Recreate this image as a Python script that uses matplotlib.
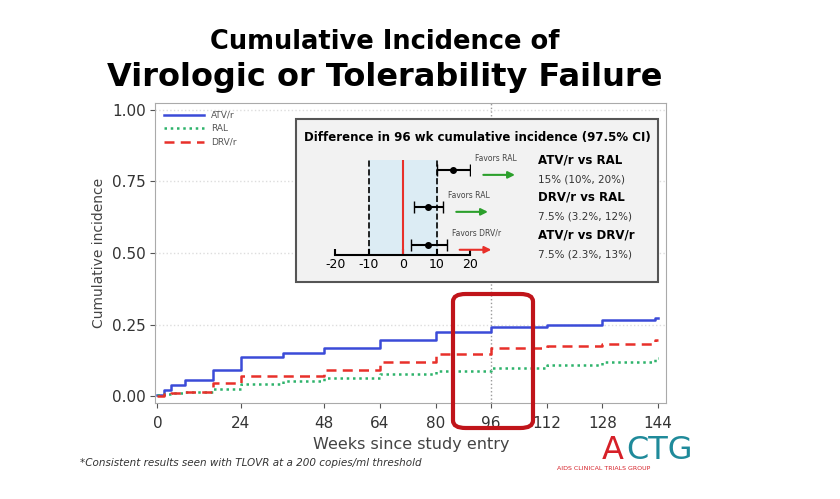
import matplotlib.pyplot as plt
from matplotlib.patches import FancyBboxPatch, Rectangle

plt.rcParams["axes.unicode_minus"] = False

weeks = [0, 2, 4, 8, 16, 24, 36, 48, 64, 80, 96, 112, 128, 143]
atv = [0.003, 0.023, 0.038, 0.058, 0.093, 0.137, 0.151, 0.169, 0.198, 0.225, 0.242, 0.25, 0.266, 0.272]
drv = [0.0, 0.007, 0.012, 0.015, 0.047, 0.072, 0.072, 0.093, 0.12, 0.149, 0.17, 0.175, 0.184, 0.196]
ral = [0.003, 0.009, 0.012, 0.014, 0.027, 0.042, 0.052, 0.065, 0.077, 0.088, 0.099, 0.108, 0.12, 0.132]
x_ticks = [0, 24, 48, 64, 80, 96, 112, 128, 144]

comparisons = ["ATV/r vs RAL", "DRV/r vs RAL", "ATV/r vs DRV/r"]
est = [15, 7.5, 7.5]
lo = [10, 3.2, 2.3]
hi = [20, 12, 13]
ci_text = ["15% (10%, 20%)", "7.5% (3.2%, 12%)", "7.5% (2.3%, 13%)"]
favors = ["Favors RAL", "Favors RAL", "Favors DRV/r"]
favor_col = ["#2ca02c", "#2ca02c", "#e8302a"]

fig = plt.figure(figsize=(8.4, 4.99), dpi=100)
ax = fig.add_axes([0.185, 0.192, 0.608, 0.602])
ax.step(weeks + [144], atv + [atv[-1]], where="post", color="#3b4bd8", lw=1.8, label="ATV/r")
ax.step(weeks + [144], ral + [ral[-1]], where="post", color="#2db36b", lw=1.8, ls=(0, (1, 1.5)), label="RAL")
ax.step(weeks + [144], drv + [drv[-1]], where="post", color="#e8302a", lw=1.8, ls=(0, (4, 2.5)), label="DRV/r")
ax.set_xlim(-0.6, 146.3)
ax.set_ylim(-0.024, 1.024)
ax.set_xticks(x_ticks)
ax.set_yticks([0, 0.25, 0.5, 0.75, 1.0])
ax.set_yticklabels(["0.00", "0.25", "0.50", "0.75", "1.00"])
ax.tick_params(labelsize=11, color="#555", labelcolor="#333")
ax.tick_params(axis="x", pad=6)
for y in [0.25, 0.5, 0.75, 1.0]:
    ax.axhline(y, color="#ddd", ls=":", lw=1, zorder=0)
ax.axvline(96, color="#999", ls=":", lw=1, zorder=0)
for s in ax.spines.values():
    s.set_color("#aaa")
ax.set_xlabel("Weeks since study entry", fontsize=11.5, color="#444")
ax.set_ylabel("Cumulative incidence", fontsize=10, color="#444")
ax.legend(loc="upper left", frameon=False, fontsize=6.5, handlelength=4.5, labelcolor="#555")

# inset box
box = Rectangle((0.276, 0.403), 0.708, 0.544, transform=ax.transAxes,
                facecolor="#f2f2f2", edgecolor="#555", lw=1.5, zorder=3)
ax.add_patch(box)
ax.text(0.63, 0.885, "Difference in 96 wk cumulative incidence (97.5% CI)", transform=ax.transAxes,
        ha="center", va="center", fontsize=8.5, fontweight="bold", zorder=4)

fa = fig.add_axes([0.399, 0.489, 0.161, 0.19])
fa.patch.set_alpha(0)
fa.set_xlim(-20, 20)
fa.set_ylim(0, 1)
fa.axvspan(-10, 10, color="#dcecf4", zorder=0)
fa.axvline(-10, color="black", ls="--", lw=1.2)
fa.axvline(10, color="black", ls="--", lw=1.2)
fa.axvline(0, color="#e8302a", lw=1.5)
rows = [0.895, 0.505, 0.105]
for i in range(3):
    fa.errorbar(est[i], rows[i], xerr=[[est[i] - lo[i]], [hi[i] - est[i]]], fmt="o", color="black",
                ms=4, capsize=4, lw=1.5)
    fa.annotate("", xy=(hi[i] + 14, rows[i] - 0.05), xytext=(hi[i] + 3, rows[i] - 0.05),
                arrowprops=dict(arrowstyle="-|>", color=favor_col[i], lw=1.5), annotation_clip=False)
    fa.text(hi[i] + 1.5, rows[i] + 0.1, favors[i], fontsize=5.5, color="#444", clip_on=False)
    fa.text(40, rows[i] + 0.07, comparisons[i], fontsize=8.5, fontweight="bold", clip_on=False)
    fa.text(40, rows[i] - 0.13, ci_text[i], fontsize=7.5, color="#333", clip_on=False)
for s in ["left", "right", "top"]:
    fa.spines[s].set_visible(False)
fa.spines["bottom"].set_linewidth(1.5)
fa.set_yticks([])
fa.set_xticks([-20, -10, 0, 10, 20])
fa.tick_params(axis="x", direction="in", length=4, width=1.5, labelsize=9, pad=2)

# red highlight box
hl = FancyBboxPatch((453 / 840, 1 - 428 / 499), 80 / 840, 134 / 499, transform=fig.transFigure,
                    boxstyle="round,pad=0,rounding_size=0.015", facecolor="none",
                    edgecolor="#c0141a", lw=3, zorder=5)
fig.patches.append(hl)

fig.text(0.458, 0.915, "Cumulative Incidence of", ha="center", va="center", fontsize=18.5, fontweight="bold")
fig.text(0.458, 0.845, "Virologic or Tolerability Failure", ha="center", va="center", fontsize=23, fontweight="bold")
fig.text(0.095, 0.066, "*Consistent results seen with TLOVR at a 200 copies/ml threshold",
         fontsize=7.5, style="italic", color="#333")
fig.text(0.716, 0.08, "A", fontsize=23, color="#d62028")
fig.text(0.746, 0.08, "CTG", fontsize=23, color="#1f8a9a")
fig.text(0.663, 0.058, "AIDS CLINICAL TRIALS GROUP", fontsize=4.5, color="#d62028")

fig.savefig("out.png", dpi=100)
